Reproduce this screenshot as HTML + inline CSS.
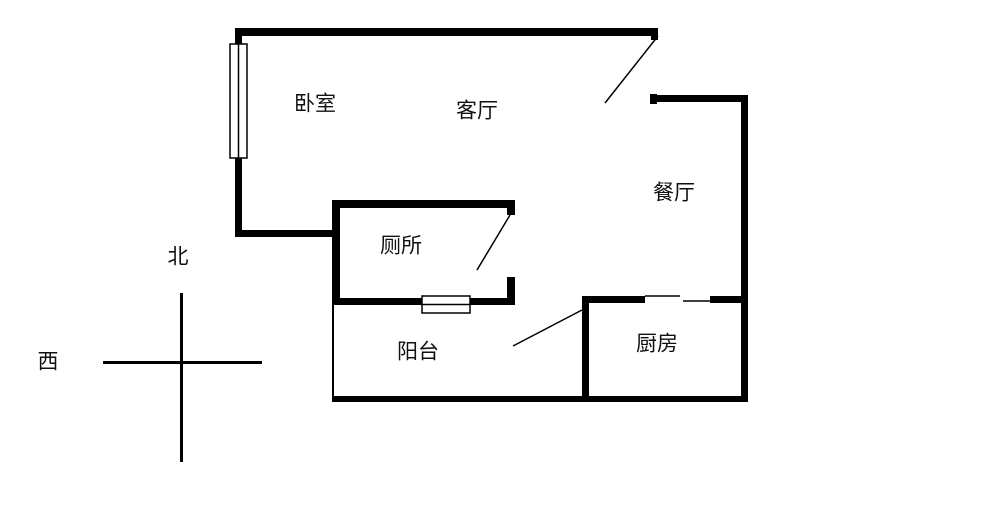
<!DOCTYPE html>
<html><head><meta charset="utf-8"><style>
body{margin:0;background:#fff;}
svg{display:block}
text{font-family:"Liberation Sans","Noto Sans CJK SC",sans-serif;font-size:21px;fill:#111;text-anchor:middle;dominant-baseline:middle}
</style></head><body>
<svg width="1000" height="509" viewBox="0 0 1000 509">
<g fill="#000">
<rect x="235" y="28" width="423" height="8"/>
<rect x="651" y="28" width="7" height="12"/>
<rect x="235" y="28" width="7" height="209"/>
<rect x="235" y="230" width="100" height="7"/>
<rect x="332" y="200" width="183" height="8"/>
<rect x="332" y="200" width="8" height="105"/>
<rect x="507" y="200" width="8" height="15"/>
<rect x="507" y="277" width="8" height="28"/>
<rect x="332" y="298" width="183" height="7"/>
<rect x="650" y="95" width="98" height="7"/>
<rect x="650" y="94" width="7" height="10"/>
<rect x="741" y="95" width="7" height="307"/>
<rect x="582" y="296" width="63" height="7"/>
<rect x="710" y="296" width="38" height="7"/>
<rect x="582" y="296" width="7" height="106"/>
<rect x="332" y="396" width="416" height="6"/>
<rect x="332" y="305" width="2" height="97"/>
<rect x="103" y="361" width="159" height="3"/>
<rect x="180" y="293" width="3" height="169"/>
</g>
<g fill="#fff" stroke="#000" stroke-width="1.5">
<rect x="230" y="44" width="17" height="114"/>
<line x1="238.5" y1="44" x2="238.5" y2="158"/>
<rect x="422" y="296" width="48" height="17"/>
<line x1="422" y1="304.5" x2="470" y2="304.5"/>
</g>
<g stroke="#000" stroke-width="1.5">
<line x1="658" y1="36" x2="605" y2="103"/>
<line x1="510" y1="215" x2="477" y2="270"/>
<line x1="582" y1="310" x2="513" y2="346"/>
<line x1="645" y1="296" x2="680" y2="296"/>
<line x1="683" y1="301" x2="710" y2="301"/>
</g>
<text x="315" y="105">卧室</text>
<text x="477" y="112">客厅</text>
<text x="674" y="194">餐厅</text>
<text x="401" y="247">厕所</text>
<text x="418" y="353">阳台</text>
<text x="657" y="345">厨房</text>
<text x="178" y="258">北</text>
<text x="48" y="363">西</text>
</svg>
</body></html>
